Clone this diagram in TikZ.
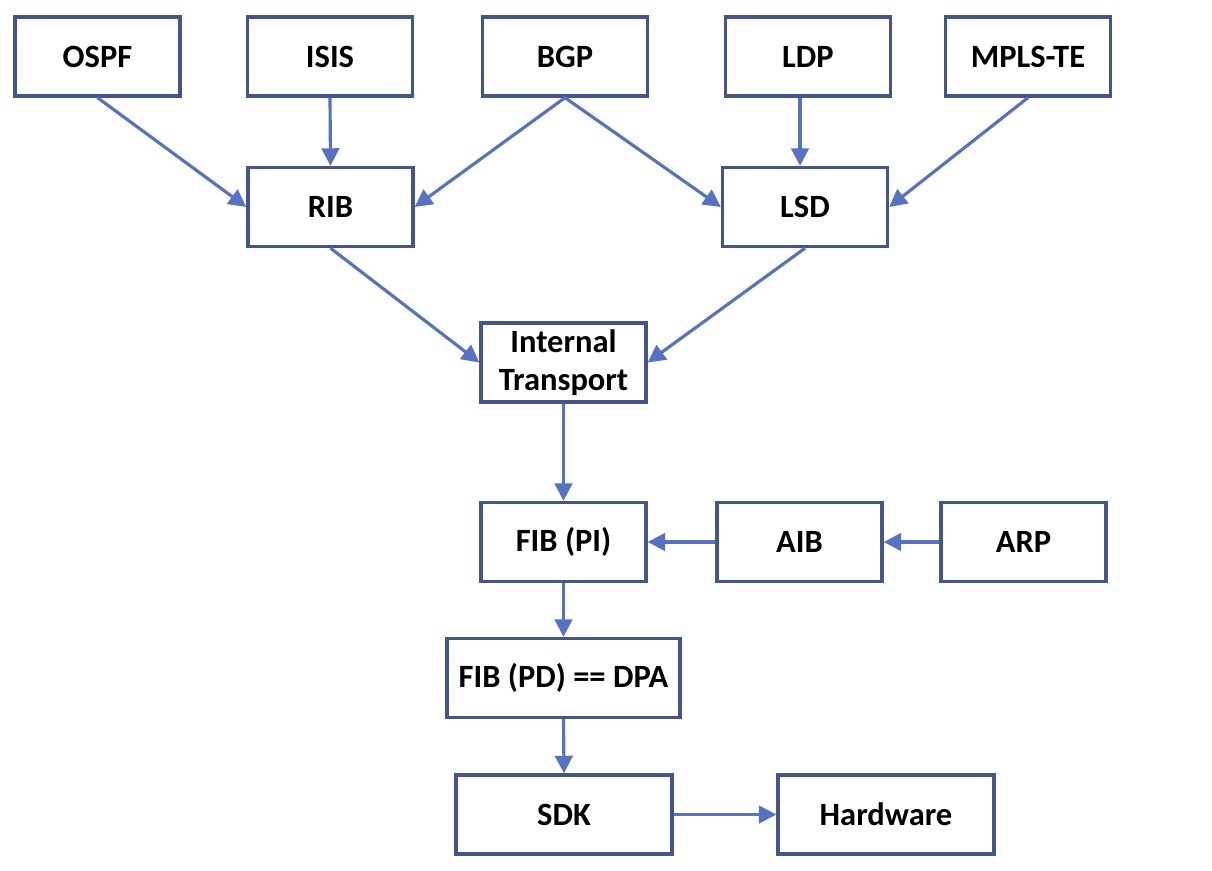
\documentclass[tikz,border=0pt]{standalone}
\usepackage{fontspec}
\setmainfont{Carlito}
\usetikzlibrary{arrows.meta,calc}
\definecolor{boxblue}{HTML}{42558F}
\definecolor{arrblue}{HTML}{5572C5}
\begin{document}
\begin{tikzpicture}[
    x=0.02cm, y=-0.02cm,
    blk/.style={draw=boxblue, line width=1.9pt, fill=white, minimum width=3.3cm,
      minimum height=1.58cm, align=center, font=\fontsize{18.5}{22}\selectfont\bfseries},
    conn/.style={draw=arrblue, line width=1.8pt, -{Triangle[length=10pt,width=10pt]}}
    ]
\useasboundingbox (0,0) rectangle (1212,870);
\node[blk] (ospf) at (97.5,56.5) {OSPF};
\node[blk] (isis) at (330,56.5) {ISIS};
\node[blk] (bgp) at (565,56.5) {BGP};
\node[blk] (ldp) at (808,56.5) {LDP};
\node[blk] (mpls) at (1028,56.5) {MPLS-TE};
\node[blk] (rib) at (330.5,207) {RIB};
\node[blk] (lsd) at (805,207) {LSD};
\node[blk] (itrans) at (563.5,362.5) {Internal\\Transport};
\node[blk] (fibpi) at (563.5,542) {FIB (PI)};
\node[blk] (aib) at (799.5,542) {AIB};
\node[blk] (arp) at (1023.5,542) {ARP};
\node[blk, minimum width=4.66cm] (fibpd) at (563.5,678) {FIB (PD) == DPA};
\node[blk, minimum width=4.32cm] (sdk) at (564,814.5) {SDK};
\node[blk, minimum width=4.32cm] (hw) at (886,814.5) {Hardware};
\draw[conn] (ospf.south) -- (rib.west);
\draw[conn] (isis.south) -- (rib.north);
\draw[conn] (bgp.south) -- (rib.east);
\draw[conn] (bgp.south) -- (lsd.west);
\draw[conn] ($(ldp.south)+(-8,0)$) -- ($(lsd.north)+(-5,0)$);
\draw[conn] (mpls.south) -- (lsd.east);
\draw[conn] (rib.south) -- (itrans.west);
\draw[conn] (lsd.south) -- (itrans.east);
\draw[conn] (itrans.south) -- (fibpi.north);
\draw[conn] (aib.west) -- (fibpi.east);
\draw[conn] (arp.west) -- (aib.east);
\draw[conn] (fibpi.south) -- (fibpd.north);
\draw[conn] (fibpd.south) -- (sdk.north);
\draw[conn] (sdk.east) -- (hw.west);
\end{tikzpicture}
\end{document}
